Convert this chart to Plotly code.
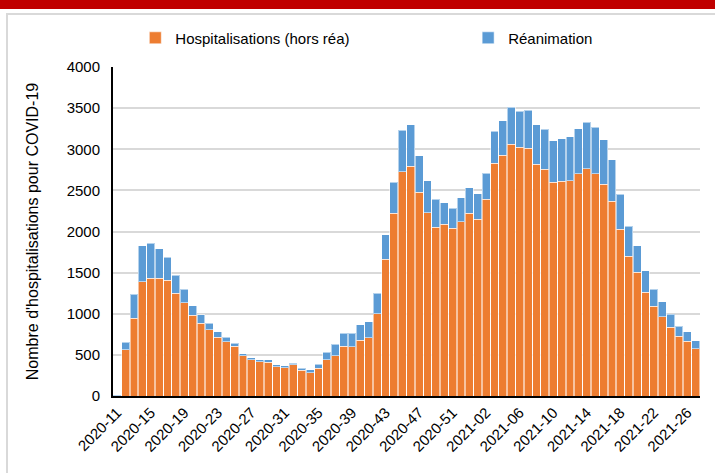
import plotly.graph_objects as go

# ISO weeks 2020-11 .. 2021-27 (2020 has 53 weeks)
weeks = [f"2020-{w:02d}" for w in range(11, 54)] + [f"2021-{w:02d}" for w in range(1, 28)]

hospit = [5, 565, 945, 1390, 1430, 1430, 1405, 1250, 1135, 980,
          885, 805, 715, 660, 605, 487, 440, 414, 410, 353,
          345, 382, 316, 284, 337, 442, 490, 605, 600, 680,
          710, 1000, 1660, 2220, 2725, 2795, 2480, 2230, 2050, 2090,
          2040, 2118, 2220, 2150, 2395, 2830, 2930, 3063, 3026, 3014,
          2820, 2755, 2600, 2610, 2620, 2700, 2760, 2700, 2575, 2370,
          2030, 1700, 1505, 1262, 1090, 965, 836, 726, 665, 572]

rea = [8, 90, 290, 435, 425, 360, 280, 220, 165, 120,
       100, 77, 65, 57, 37, 24, 27, 28, 28, 25,
       24, 17, 20, 36, 48, 93, 138, 158, 163, 185,
       190, 250, 300, 380, 505, 505, 440, 390, 340, 260,
       240, 290, 310, 310, 315, 390, 415, 450, 435, 463,
       480, 490, 505, 515, 535, 550, 570, 570, 540, 500,
       420, 365, 320, 263, 210, 180, 158, 122, 114, 101]

tick_weeks = weeks[::4]

ORANGE = "#ED7D31"
BLUE = "#5B9BD5"
EDGE = dict(color="rgba(255,255,255,0.55)", width=1)

fig = go.Figure()
fig.add_trace(go.Bar(x=weeks, y=hospit, name="Hospitalisations (hors réa)", showlegend=True,
                     marker=dict(color=ORANGE, line=EDGE), legend="legend"))
fig.add_trace(go.Bar(x=weeks, y=rea, name="Réanimation", showlegend=True,
                     marker=dict(color=BLUE, line=EDGE), legend="legend2"))

leg_common = dict(orientation="h", yanchor="middle", y=1.088, xanchor="left",
                  font=dict(size=15), bgcolor="rgba(0,0,0,0)", itemwidth=30)

fig.update_layout(
    barmode="stack",
    bargap=0.06,
    width=715,
    height=473,
    margin=dict(l=113, r=15, t=67, b=77),
    paper_bgcolor="white",
    plot_bgcolor="white",
    showlegend=True,
    font=dict(family="Liberation Sans, Arial, sans-serif", size=15, color="#000000"),
    legend=dict(x=0.038, **leg_common),
    legend2=dict(x=0.605, **leg_common),
    shapes=[
        dict(type="rect", xref="paper", yref="paper", x0=-0.1806, x1=1.06, y0=-0.35, y1=1.161,
             line=dict(color="#D9D9D9", width=2), fillcolor="rgba(0,0,0,0)", layer="below"),
        dict(type="rect", xref="paper", yref="paper", x0=-0.2, x1=1.05, y0=1.176, y1=1.21,
             line=dict(width=0), fillcolor="#C00000"),
    ],
)

fig.update_xaxes(
    type="category",
    tickmode="array",
    tickvals=tick_weeks,
    ticktext=tick_weeks,
    tickangle=-45,
    showline=True,
    linecolor="#000000",
    linewidth=2,
    ticks="",
    showgrid=False,
    automargin=False,
    tickfont=dict(size=15),
)
fig.update_yaxes(
    range=[0, 4000],
    dtick=500,
    showline=True,
    linecolor="#000000",
    linewidth=2,
    showgrid=True,
    gridcolor="#D9D9D9",
    gridwidth=2,
    zeroline=False,
    automargin=False,
    tickfont=dict(size=15),
    ticks="",
    ticklabelstandoff=8,
    title=dict(text="Nombre d'hospitalisations pour COVID-19", font=dict(size=16), standoff=24),
)

# page body has an 8px default margin; drop it so the figure sits at the window corner
fig.write_html("out.html", config={"displayModeBar": False},
               post_script="document.body.style.margin='0px';")
